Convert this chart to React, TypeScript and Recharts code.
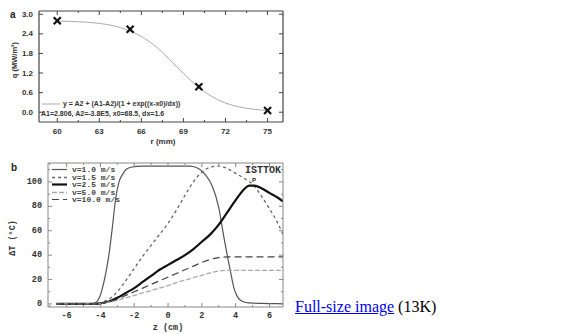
import { ComposedChart, Line, Scatter, XAxis, YAxis, Legend } from 'recharts';

// panel a: radial heat flux profile
const rFit = [60, 61, 62, 63, 64, 65, 66, 67, 68, 69, 70, 71, 72, 73, 74, 75];
const qFit = [2.79, 2.78, 2.76, 2.72, 2.65, 2.52, 2.32, 2.02, 1.62, 1.19, 0.79, 0.49, 0.28, 0.16, 0.09, 0.05];
const rMeas = [60, 65.2, 70.1, 75];
const qMeas = [2.8, 2.54, 0.78, 0.05];
const aXTicks = [60, 61.5, 63, 64.5, 66, 67.5, 69, 70.5, 72, 73.5, 75];
const aXMajor = [60, 63, 66, 69, 72, 75];
const aYTicks = [0, 0.6, 1.2, 1.8, 2.4, 3.0];

// panel b: temperature rise along z for several speeds
const z1 = [-6.6, -5, -4.6, -4.3, -4.1, -3.9, -3.7, -3.5, -3.3, -3.1, -2.9, -2.7, -2.5, -2.2, -1.5, 0, 1.3, 1.8, 2.2, 2.6, 3.0, 3.3, 3.5, 3.7, 3.9, 4.1, 4.4, 4.8, 5.5, 6.8];
const t1 = [0, 0, 0.3, 1, 4, 12, 24, 40, 62, 86, 100, 106, 110, 112, 113, 113, 113, 111, 106, 97, 79, 55, 40, 26, 13, 6, 2, 0.8, 0.5, 0.3];
const z15 = [-6.6, -4.5, -4, -3.5, -3, -2.5, -2, -1.5, -1, -0.5, 0, 0.5, 1, 1.5, 2, 2.5, 3, 3.5, 4, 4.5, 5, 5.5, 6, 6.5, 6.8];
const t15 = [0, 0, 1, 4, 10, 19, 29, 39, 48, 57, 66, 77, 89, 100, 108, 112, 113, 111, 107, 103, 98, 89, 78, 66, 57];
const z25 = [-6.6, -4.5, -4, -3.5, -3, -2.5, -2, -1.5, -1, -0.5, 0, 0.5, 1, 1.5, 2, 2.5, 3, 3.5, 4, 4.5, 4.8, 5.1, 5.5, 6, 6.5, 6.8];
const t25 = [0, 0, 0.5, 2, 5, 9, 13, 18, 23, 28, 32, 36, 40, 45, 51, 57, 65, 75, 85, 94, 97, 97, 95, 91, 87, 84];
const z5 = [-6.6, -4.5, -4, -3.5, -3, -2.5, -2, -1.5, -1, -0.5, 0, 0.5, 1, 1.5, 2, 2.5, 3, 3.5, 6.8];
const t5 = [0, 0, 0.5, 1.5, 3, 5, 7, 9, 11, 13, 15, 17.5, 19.5, 21.5, 23.5, 25.5, 27, 27.5, 27.5];
const z10 = [-6.6, -4.5, -4, -3.5, -3, -2.5, -2, -1.5, -1, -0.5, 0, 0.5, 1, 1.5, 2, 2.5, 3, 3.5, 6.8];
const t10 = [0, 0, 0.5, 2, 4, 7, 10, 13, 16, 19, 22, 25, 28, 31, 34, 36.5, 38, 38.5, 38.5];
const bXTicks = [-7, -6, -5, -4, -3, -2, -1, 0, 1, 2, 3, 4, 5, 6];
const bXMajor = [-6, -4, -2, 0, 2, 4, 6];
const bYTicks = [0, 10, 20, 30, 40, 50, 60, 70, 80, 90, 100, 110];
const bYMajor = [0, 20, 40, 60, 80, 100];

const zip = (xs: number[], ys: number[]) => xs.map((x, i) => ({ x, y: ys[i] }));

const series = [
  { name: 'v=1.0 m/s', data: zip(z1, t1), stroke: '#555', width: 1.2, dash: undefined },
  { name: 'v=1.5 m/s', data: zip(z15, t15), stroke: '#666', width: 1.3, dash: '3 3' },
  { name: 'v=2.5 m/s', data: zip(z25, t25), stroke: '#111', width: 2.2, dash: undefined },
  { name: 'v=5.0 m/s', data: zip(z5, t5), stroke: '#aaa', width: 1.3, dash: '5 2' },
  { name: 'v=10.0 m/s', data: zip(z10, t10), stroke: '#444', width: 1.2, dash: '7 4' },
];

const SANS = '"Liberation Sans", Arial, sans-serif';
const MONO = '"Liberation Mono", "DejaVu Sans Mono", monospace';

// ticks point into the plot, labels sit outside
const makeTick = (side: string, majors: number[], fmt: ((v: number) => string) | null, font: any, color: string) =>
  (props: any) => {
    const { x, y, payload } = props;
    const v = payload.value;
    const major = majors.some((m) => Math.abs(m - v) < 1e-6);
    const len = major ? 4 : 2;
    let line;
    let label = null;
    if (side === 'bottom') {
      line = <line x1={x} y1={y} x2={x} y2={y - len} stroke={color} />;
      if (major && fmt) label = <text x={x} y={y + 9} textAnchor="middle" dominantBaseline="central" {...font}>{fmt(v)}</text>;
    } else if (side === 'left') {
      line = <line x1={x} y1={y} x2={x + len} y2={y} stroke={color} />;
      if (major && fmt) label = <text x={x - 6} y={y} textAnchor="end" dominantBaseline="central" {...font}>{fmt(v)}</text>;
    } else if (side === 'top') {
      line = <line x1={x} y1={y} x2={x} y2={y + len} stroke={color} />;
    } else {
      line = <line x1={x} y1={y} x2={x - len} y2={y} stroke={color} />;
    }
    return <g>{line}{label}</g>;
  };

const aFont = { fontFamily: SANS, fontSize: 8, fontWeight: 'bold', fill: '#333' };
const bFont = { fontFamily: MONO, fontSize: 8.5, fontWeight: 'bold', fill: '#333' };

const XMark = (props: any) => {
  const { cx, cy } = props;
  const s = 3.5;
  return (
    <g stroke="#111" strokeWidth={2.2}>
      <line x1={cx - s} y1={cy - s} x2={cx + s} y2={cy + s} />
      <line x1={cx - s} y1={cy + s} x2={cx + s} y2={cy - s} />
    </g>
  );
};

const FitLegend = () => (
  <div style={{ fontFamily: SANS, fontSize: 7, fontWeight: 'bold', color: '#333', lineHeight: '10px', whiteSpace: 'nowrap' }}>
    <div>
      <svg width={20} height={6} style={{ verticalAlign: 'middle' }}>
        <line x1={1} y1={3} x2={19} y2={3} stroke="#aaa" strokeWidth={1} />
      </svg>{' '}
      y = A2 + (A1-A2)/(1 + exp((x-x0)/dx))
    </div>
    <div>A1=2.806, A2=-3.8E5, x0=68.5, dx=1.6</div>
  </div>
);

const SpeedLegend = () => (
  <div style={{ fontFamily: MONO, fontSize: 8, fontWeight: 'bold', color: '#444', lineHeight: '7.5px', whiteSpace: 'nowrap' }}>
    {series.map((s) => (
      <div key={s.name} style={{ height: 7.5 }}>
        <svg width={18} height={7} style={{ verticalAlign: 'top' }}>
          <line x1={1} y1={3.5} x2={16} y2={3.5} stroke={s.stroke} strokeWidth={s.width} strokeDasharray={s.dash} />
        </svg>
        <span style={{ marginLeft: 3 }}>{s.name}</span>
      </div>
    ))}
  </div>
);

export default function App() {
  const fit = zip(rFit, qFit);
  const meas = zip(rMeas, qMeas);
  const aAxis = '#444';
  const bAxis = '#888';
  return (
    <div style={{ position: 'absolute', left: 0, top: 0, width: 577, height: 334, background: '#fff' }}>
      <div style={{ position: 'absolute', left: 0, top: 0 }}>
        <ComposedChart width={290} height={150} margin={{ top: 10, right: 6, bottom: 8, left: 9 }}>
          <XAxis dataKey="x" type="number" domain={[58.7, 76.1]} allowDataOverflow ticks={aXTicks} interval={0}
            tickSize={0} tickMargin={0} height={20} axisLine={{ stroke: aAxis, strokeWidth: 1.2 }} tickLine={false}
            tick={makeTick('bottom', aXMajor, (v) => String(v), aFont, aAxis)} />
          <XAxis xAxisId="t" dataKey="x" type="number" orientation="top" domain={[58.7, 76.1]} allowDataOverflow ticks={aXTicks} interval={0}
            tickSize={0} tickMargin={0} height={1} axisLine={{ stroke: aAxis, strokeWidth: 1.2 }} tickLine={false}
            tick={makeTick('top', aXMajor, null, aFont, aAxis)} />
          <YAxis dataKey="y" type="number" domain={[-0.3, 3.1]} allowDataOverflow ticks={aYTicks} interval={0}
            tickSize={0} tickMargin={0} width={30} axisLine={{ stroke: aAxis, strokeWidth: 1.2 }} tickLine={false}
            tick={makeTick('left', aYTicks, (v) => v.toFixed(1), aFont, aAxis)} />
          <YAxis yAxisId="r" dataKey="y" type="number" orientation="right" domain={[-0.3, 3.1]} allowDataOverflow ticks={aYTicks} interval={0}
            tickSize={0} tickMargin={0} width={1} axisLine={{ stroke: aAxis, strokeWidth: 1.2 }} tickLine={false}
            tick={makeTick('right', aYTicks, null, aFont, aAxis)} />
          <Legend layout="horizontal" verticalAlign="middle" align="center" content={<FitLegend />}
            wrapperStyle={{ left: 41, top: 99, width: 'auto', height: 'auto' }} />
          <Line data={fit} dataKey="y" type="monotone" stroke="#aaa" strokeWidth={1} dot={false} isAnimationActive={false} />
          {/* same domains as the main axes, bound here so the top/right frame gets drawn */}
          <Scatter data={meas} dataKey="y" xAxisId="t" yAxisId="r" shape={<XMark />} isAnimationActive={false} />
        </ComposedChart>
      </div>

      <div style={{ position: 'absolute', left: 0, top: 150 }}>
        <ComposedChart width={290} height={184} margin={{ top: 12, right: 6, bottom: 7, left: 12 }}>
          <XAxis dataKey="x" type="number" domain={[-7.1, 6.8]} allowDataOverflow ticks={bXTicks} interval={0}
            tickSize={0} tickMargin={0} height={20} axisLine={{ stroke: bAxis }} tickLine={false}
            tick={makeTick('bottom', bXMajor, (v) => String(v), bFont, bAxis)} />
          <XAxis xAxisId="t" dataKey="x" type="number" orientation="top" domain={[-7.1, 6.8]} allowDataOverflow ticks={bXTicks} interval={0}
            tickSize={0} tickMargin={0} height={1} axisLine={{ stroke: bAxis }} tickLine={false}
            tick={makeTick('top', bXMajor, null, bFont, bAxis)} />
          <YAxis dataKey="y" type="number" domain={[-2.5, 115.5]} allowDataOverflow ticks={bYTicks} interval={0}
            tickSize={0} tickMargin={0} width={36} axisLine={{ stroke: bAxis }} tickLine={false}
            tick={makeTick('left', bYMajor, (v) => String(v), bFont, bAxis)} />
          <YAxis yAxisId="r" dataKey="y" type="number" orientation="right" domain={[-2.5, 115.5]} allowDataOverflow ticks={bYTicks} interval={0}
            tickSize={0} tickMargin={0} width={1} axisLine={{ stroke: bAxis }} tickLine={false}
            tick={makeTick('right', bYMajor, null, bFont, bAxis)} />
          <Legend layout="horizontal" verticalAlign="middle" align="center" content={<SpeedLegend />}
            wrapperStyle={{ left: 51, top: 16, width: 'auto', height: 'auto' }} />
          {series.map((s, i) => (
            <Line key={s.name} data={s.data} dataKey="y" name={s.name} type="monotone" stroke={s.stroke}
              xAxisId={i === 0 ? 't' : 0} yAxisId={i === 0 ? 'r' : 0}
              strokeWidth={s.width} strokeDasharray={s.dash} dot={false} isAnimationActive={false} />
          ))}
        </ComposedChart>
      </div>

      <svg width={577} height={334} style={{ position: 'absolute', left: 0, top: 0, pointerEvents: 'none' }}>
        <text x={10} y={18} fontFamily={SANS} fontSize={10} fontWeight="bold" fill="#222">a</text>
        <text x={14} y={60} transform="rotate(-90 14 60)" textAnchor="middle" dominantBaseline="central"
          fontFamily={SANS} fontSize={7.5} fontWeight="bold" fill="#333">q (MW/m²)</text>
        <text x={163} y={141} textAnchor="middle" dominantBaseline="central"
          fontFamily={SANS} fontSize={8} fontWeight="bold" fill="#333">r (mm)</text>
        <text x={11} y={171} fontFamily={SANS} fontSize={10} fontWeight="bold" fill="#222">b</text>
        <text x={13} y={238} transform="rotate(-90 13 238)" textAnchor="middle" dominantBaseline="central"
          fontFamily={MONO} fontSize={8.5} fontWeight="bold" fill="#333">ΔT  (°C)</text>
        <text x={168} y={328} textAnchor="middle" dominantBaseline="central"
          fontFamily={MONO} fontSize={8.5} fontWeight="bold" fill="#333">z  (cm)</text>
        <text x={281} y={170} textAnchor="end" dominantBaseline="central"
          fontFamily={MONO} fontSize={10} fontWeight="bold" fill="#333">ISTTOK</text>
        <text x={254} y={180} textAnchor="middle" dominantBaseline="central"
          fontFamily={SANS} fontSize={6} fontWeight="bold" fill="#222">P</text>
      </svg>

      <div style={{ position: 'absolute', left: 295, top: 298, fontFamily: '"Liberation Serif", "Times New Roman", serif', fontSize: 16, whiteSpace: 'nowrap' }}>
        <a href="#" style={{ color: '#0000ee' }}>Full-size image</a> (13K)
      </div>
    </div>
  );
}
